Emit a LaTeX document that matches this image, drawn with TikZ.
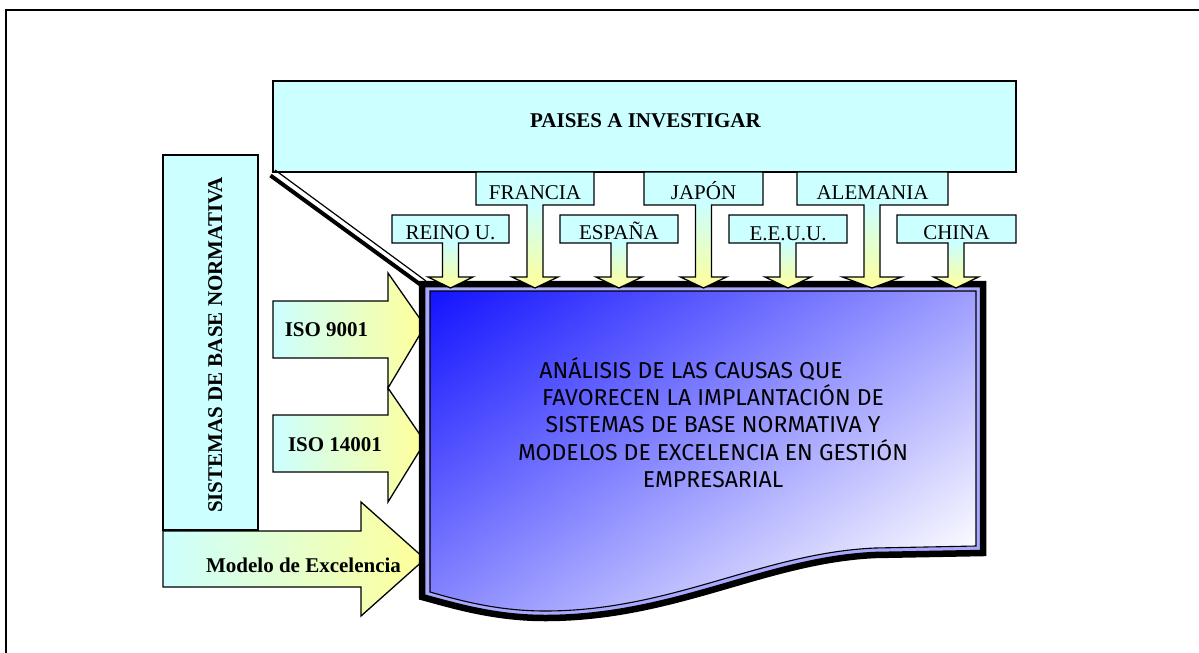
\documentclass[tikz,border=0pt]{standalone}
\usepackage{fontspec}
\setmainfont{Liberation Serif}
\newfontfamily\handfont{Fira Sans}
\definecolor{boxcyan}{HTML}{CCFFFF}
\definecolor{arryel}{HTML}{FFFF99}
\definecolor{deepblue}{HTML}{1010FF}
\definecolor{midblue}{HTML}{9A9AFF}
\definecolor{paleblue}{HTML}{FCFCFF}
\definecolor{lavband}{HTML}{A8A8FF}
% #1 name, #2 label, #3 left, #4 right, #5 top, #6 bottom, #7 shaft centre x, #8 head half width, #9 baseline y
\newcommand\cntry[9]{%
  \path[fill=boxcyan] (#3,#5) rectangle (#4,#6);
  \shade[top color=boxcyan, bottom color=arryel]
    (#7-8,#6) -- (#7+8,#6) -- (#7+8,277) -- (#7+#8,277) -- (#7,288) -- (#7-#8,277) -- (#7-8,277) -- cycle;
  \draw[outl] (#3,#5) -- (#4,#5) -- (#4,#6) -- (#7+8,#6) -- (#7+8,277) -- (#7+#8,277) -- (#7,288)
    -- (#7-#8,277) -- (#7-8,277) -- (#7-8,#6) -- (#3,#6) -- cycle;
  \node[lbl, anchor=base] (#1) at ({(#3+#4)/2},#9) {#2};
  \coordinate (#1tip) at (#7,288);
}
\begin{document}
\begin{tikzpicture}[x=1pt,y=-1pt, line join=miter,
  outl/.style={draw=black, line width=1.3pt},
  lbl/.style={font=\fontsize{21}{24}\selectfont, inner sep=0pt},
  blbl/.style={font=\fontsize{21}{24}\selectfont\bfseries, inner sep=0pt},
  lshade/.style={left color=boxcyan, right color=arryel}]
\useasboundingbox (0,0) rectangle (1199,653);
% outer frame
\draw[line width=1.7pt] (6,670) -- (6,10) -- (1210,10);

% countries header
\draw[outl, fill=boxcyan] (273,81) rectangle (1016,172);
\node[blbl, anchor=base] (paises) at (645.5,127) {PAISES A INVESTIGAR};

% diagonal double line
\coordinate (dA1) at (270.5,175.5);
\coordinate (dA2) at (421,285);
\coordinate (dB1) at (275,170);
\coordinate (dB2) at (426,281);
\draw[line width=4pt] (dA1) -- (dA2);
\draw[line width=1.2pt] (dB1) -- (dB2);

% vertical box
\draw[outl, fill=boxcyan] (163,155) rectangle (258,530);
\node[blbl, rotate=90, anchor=base] (sist) at (222,345) {SISTEMAS DE BASE NORMATIVA};

% left arrows
\draw[outl, lshade] (273,301) -- (388,301) -- (388,273) -- (425,326) -- (388,388) -- (388,358) -- (273,358) -- cycle;
\node[blbl, anchor=base] (iso9) at (326.5,336) {ISO 9001};
\draw[outl, lshade] (273,415) -- (388,415) -- (388,388) -- (425,442) -- (388,502) -- (388,472) -- (273,472) -- cycle;
\node[blbl, anchor=base] (iso14) at (335,451) {ISO 14001};
\draw[outl, lshade] (163,531) -- (361,531) -- (361,502) -- (425,559) -- (361,616) -- (361,587) -- (163,587) -- cycle;
\node[blbl, anchor=base] (modelo) at (303.5,572) {Modelo de Excelencia};

% main document shape
\path[fill=lavband, draw=black, line width=6.5pt]
  (422,284) -- (983,284) -- (983,553) -- (875,555)
  .. controls (765,560) and (675,618) .. (545,618)
  .. controls (495,618) and (455,606) .. (422,597) -- cycle;
\begin{scope}
  \clip (430,291) -- (976,291) -- (976,546) -- (875,548)
    .. controls (762,553) and (672,611) .. (545,611)
    .. controls (497,611) and (458,600) .. (430,592) -- cycle;
  \begin{scope}[transform canvas={rotate around={35:(703,450)}}]
    \shade[top color=deepblue, middle color=midblue, bottom color=paleblue] (373,158) rectangle (1033,688);
  \end{scope}
\end{scope}
\draw[line width=1.1pt]
  (430,291) -- (976,291) -- (976,546) -- (875,548)
  .. controls (762,553) and (672,611) .. (545,611)
  .. controls (497,611) and (458,600) .. (430,592) -- cycle;
\node[font=\handfont\fontsize{23}{27.3}\selectfont, align=center, inner sep=0pt] (main) at (713,422.5)
  {ANÁLISIS DE LAS CAUSAS QUE\hspace*{44pt}\\
   FAVORECEN LA IMPLANTACIÓN DE\\
   SISTEMAS DE BASE NORMATIVA Y\\
   MODELOS DE EXCELENCIA EN GESTIÓN\\
   EMPRESARIAL};

% country callouts
\cntry{reino}{REINO U.}{392}{509}{215}{243}{450.5}{22.5}{239}
\cntry{francia}{FRANCIA}{476}{594}{172}{205}{535}{23}{199}
\cntry{espana}{ESPAÑA}{560}{678}{215}{243}{619}{23}{239}
\cntry{japon}{JAPÓN}{644}{763}{172}{205}{703.5}{23}{199}
\cntry{eeuu}{E.E.U.U.}{729}{847}{215}{243}{788}{23}{240}
\cntry{alemania}{ALEMANIA}{797}{948}{172}{205}{872}{29.5}{199}
\cntry{china}{CHINA}{897}{1016}{215}{243}{956}{22.5}{239}
\end{tikzpicture}
\end{document}
